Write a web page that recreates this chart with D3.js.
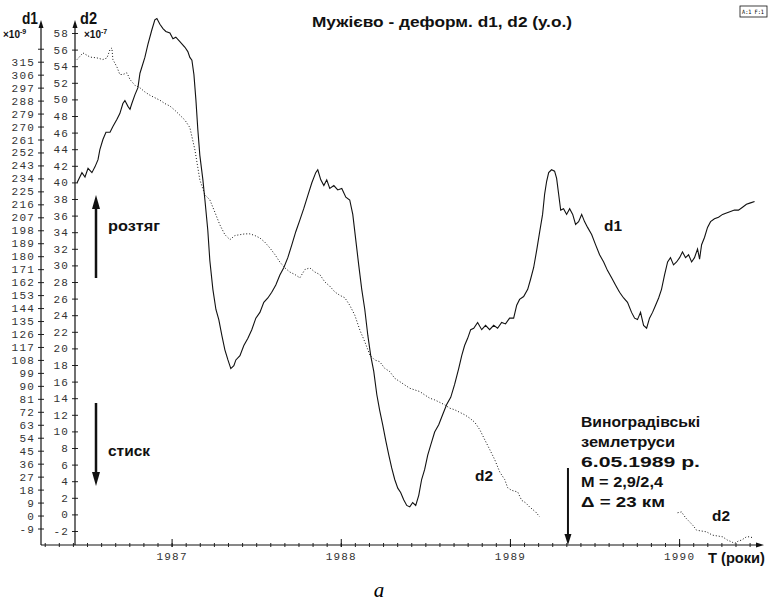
<!DOCTYPE html>
<html>
<head>
<meta charset="utf-8">
<script src="https://cdn.jsdelivr.net/npm/d3@7"></script>
<style>
  body { margin: 0; background: #fff; }
  svg { display: block; }
  .tick text { font-family: "Liberation Mono", "DejaVu Sans Mono", monospace; font-size: 11px; letter-spacing: 1.2px; fill: #333; }
  .lbl { font-family: "Liberation Sans", Arial, sans-serif; font-weight: bold; fill: #111; }
</style>
</head>
<body>
<script>
// --- data (years as decimal years) ---
var d1Years = [
  1986.441, 1986.470, 1986.488, 1986.506, 1986.529, 1986.547, 1986.565, 1986.576, 1986.594, 1986.612,
  1986.636, 1986.653, 1986.677, 1986.694, 1986.712, 1986.724, 1986.742, 1986.754, 1986.765, 1986.783,
  1986.801, 1986.813, 1986.842, 1986.860, 1986.883, 1986.901, 1986.913, 1986.931, 1986.949, 1986.966,
  1986.990, 1987.008, 1987.025, 1987.049, 1987.079, 1987.096, 1987.108, 1987.120, 1987.132, 1987.144,
  1987.155, 1987.167, 1987.185, 1987.197, 1987.214, 1987.226, 1987.244, 1987.262, 1987.279, 1987.297,
  1987.315, 1987.333, 1987.350, 1987.368, 1987.380, 1987.404, 1987.427, 1987.451, 1987.474, 1987.498,
  1987.522, 1987.545, 1987.569, 1987.592, 1987.616, 1987.640, 1987.663, 1987.687, 1987.711, 1987.734,
  1987.758, 1987.781, 1987.805, 1987.829, 1987.852, 1987.864, 1987.882, 1987.900, 1987.917, 1987.935,
  1987.959, 1987.982, 1988.006, 1988.030, 1988.053, 1988.071, 1988.089, 1988.106, 1988.124, 1988.142,
  1988.160, 1988.177, 1988.195, 1988.213, 1988.230, 1988.248, 1988.266, 1988.284, 1988.301, 1988.319,
  1988.337, 1988.354, 1988.372, 1988.390, 1988.408, 1988.425, 1988.443, 1988.461, 1988.478, 1988.496,
  1988.514, 1988.532, 1988.555, 1988.579, 1988.602, 1988.626, 1988.650, 1988.673, 1988.697, 1988.715,
  1988.732, 1988.750, 1988.768, 1988.786, 1988.809, 1988.833, 1988.856, 1988.880, 1988.904, 1988.927,
  1988.951, 1988.974, 1988.998, 1989.022, 1989.040, 1989.057, 1989.081, 1989.105, 1989.122, 1989.140,
  1989.158, 1989.176, 1989.193, 1989.205, 1989.217, 1989.229, 1989.246, 1989.264, 1989.276, 1989.288,
  1989.300, 1989.317, 1989.335, 1989.353, 1989.371, 1989.388, 1989.406, 1989.424, 1989.441, 1989.459,
  1989.483, 1989.506, 1989.530, 1989.554, 1989.577, 1989.601, 1989.624, 1989.648, 1989.672, 1989.695,
  1989.719, 1989.737, 1989.754, 1989.772, 1989.790, 1989.808, 1989.825, 1989.843, 1989.861, 1989.879,
  1989.896, 1989.914, 1989.932, 1989.949, 1989.967, 1989.985, 1990.003, 1990.020, 1990.038, 1990.056,
  1990.074, 1990.091, 1990.109, 1990.121, 1990.133, 1990.150, 1990.168, 1990.186, 1990.209, 1990.233,
  1990.257, 1990.280, 1990.304, 1990.327, 1990.351, 1990.375, 1990.398, 1990.422, 1990.446
];
var d1Values = [
  231, 238, 235, 241, 238, 242, 247, 254, 261, 266,
  266, 270, 275, 279, 286, 288, 284, 282, 286, 292,
  297, 307, 318, 327, 337, 344, 345, 341, 338, 336,
  335, 331, 332, 329, 325, 322, 318, 316, 306, 288,
  268, 250, 233, 219, 198, 177, 157, 143, 136, 125,
  115, 108, 102, 104, 108, 111, 118, 123, 129, 137,
  141, 148, 151, 155, 160, 167, 172, 179, 188, 197,
  205, 213, 222, 231, 238, 240, 233, 229, 233, 227,
  229, 226, 227, 221, 219, 209, 191, 174, 157, 143,
  125, 111, 100, 84, 73, 63, 52, 42, 33, 25,
  19, 16, 11, 7, 6, 9, 7, 14, 25, 32,
  42, 49, 58, 63, 70, 77, 82, 91, 102, 111,
  118, 123, 129, 130, 134, 129, 132, 129, 132, 130,
  134, 133, 137, 137, 146, 150, 152, 157, 164, 172,
  184, 197, 209, 223, 232, 238, 240, 239, 234, 223,
  212, 213, 209, 213, 209, 202, 204, 209, 204, 200,
  195, 188, 181, 176, 170, 165, 160, 155, 151, 148,
  141, 137, 136, 141, 132, 130, 137, 141, 146, 151,
  157, 167, 176, 179, 174, 176, 179, 183, 179, 181,
  176, 179, 185, 178, 188, 193, 200, 204, 206, 207,
  209, 210, 211, 212, 212, 214, 216, 217, 218
];

// d2 has a gap in the record (null)
var d2Years = [
  1986.441, 1986.476, 1986.518, 1986.559, 1986.594, 1986.618, 1986.636, 1986.647, 1986.653, 1986.677,
  1986.694, 1986.712, 1986.736, 1986.754, 1986.783, 1986.813, 1986.842, 1986.872, 1986.901, 1986.931,
  1986.960, 1986.990, 1987.019, 1987.049, 1987.079, 1987.108, 1987.138, 1987.167, 1987.197, 1987.226,
  1987.256, 1987.285, 1987.315, 1987.345, 1987.374, 1987.404, 1987.433, 1987.463, 1987.492, 1987.522,
  1987.551, 1987.581, 1987.611, 1987.640, 1987.670, 1987.699, 1987.729, 1987.758, 1987.788, 1987.817,
  1987.847, 1987.876, 1987.906, 1987.935, 1987.965, 1987.994, 1988.024, 1988.053, 1988.083, 1988.113,
  1988.142, 1988.172, 1988.201, 1988.230, 1988.260, 1988.290, 1988.319, 1988.349, 1988.378, 1988.408,
  1988.437, 1988.467, 1988.496, 1988.526, 1988.555, 1988.585, 1988.615, 1988.644, 1988.674, 1988.703,
  1988.733, 1988.762, 1988.792, 1988.822, 1988.851, 1988.881, 1988.910, 1988.940, 1988.969, 1988.987,
  1989.010, 1989.046, 1989.069, 1989.093, 1989.116, 1989.152, 1989.176, 1989.600,
  1989.991, 1990.014, 1990.038, 1990.062, 1990.085, 1990.103, 1990.132, 1990.162, 1990.197, 1990.227,
  1990.257, 1990.286, 1990.310, 1990.327, 1990.351, 1990.369, 1990.398, 1990.416, 1990.434
];
var d2Values = [
  54.8, 55.6, 55.1, 55.0, 54.8, 55.0, 56.0, 56.2, 54.8, 53.9,
  53.0, 53.0, 53.2, 52.4, 51.7, 51.4, 50.9, 50.5, 50.2, 49.9,
  49.5, 49.2, 48.7, 48.1, 47.5, 46.6, 43.9, 40.3, 38.5, 37.9,
  36.4, 34.9, 33.7, 33.1, 33.6, 33.7, 33.8, 33.8, 33.6, 33.3,
  32.8, 32.1, 31.3, 30.4, 29.7, 29.2, 28.9, 28.5, 29.5, 29.7,
  29.2, 28.9, 28.0, 27.5, 26.8, 26.4, 26.1, 25.2, 24.0, 22.2,
  20.8, 19.2, 18.6, 18.4, 17.6, 17.2, 16.4, 16.0, 15.6, 15.2,
  15.0, 14.8, 14.4, 14.0, 13.8, 13.5, 13.2, 12.8, 12.6, 12.3,
  12.0, 11.6, 11.1, 10.2, 9.0, 7.8, 6.6, 5.1, 4.2, 3.2,
  2.9, 2.7, 1.7, 1.4, 0.9, 0.3, -0.3, null,
  0.2, 0.3, -0.4, -0.9, -1.4, -1.9, -2.0, -2.1, -2.5, -2.6,
  -2.7, -3.1, -3.3, -3.5, -3.2, -3.1, -2.7, -2.7, -2.8
];

// tick labels
var d1Ticks = [-9, 0, 9, 18, 27, 36, 45, 54, 63, 72, 81, 90, 99, 108, 117, 126, 135, 144, 153, 162,
  171, 180, 189, 198, 207, 216, 225, 234, 243, 252, 261, 270, 279, 288, 297, 306, 315, 324];
var d2Ticks = [-2, 0, 2, 4, 6, 8, 10, 12, 14, 16, 18, 20, 22, 24, 26, 28, 30, 32, 34, 36, 38, 40,
  42, 44, 46, 48, 50, 52, 54, 56, 58];
var yearTicks = [1987, 1988, 1989, 1990];
var quakeDate = 1989.343; // 6.05.1989

var width = 771, height = 602;
var axisY = 545, axisTop = 20;

var svg = d3.select("body").append("svg")
    .attr("width", width)
    .attr("height", height);

var xScale = d3.scaleLinear().domain([1986.228, 1990.49]).range([41, 762]);
var y1Scale = d3.scaleLinear().domain([-9, 315]).range([528.5, 61.7]);
var y2Scale = d3.scaleLinear().domain([-2, 58]).range([531, 33]);
var x1Axis = 41, x2Axis = 75;

function tri(points) {
    svg.append("path")
        .attr("d", "M" + points.map(p => p.join(",")).join("L") + "Z")
        .attr("fill", "#111");
}

// vertical axes
var d1Axis = svg.append("g")
    .attr("transform", "translate(" + x1Axis + ",0)")
    .call(d3.axisLeft(y1Scale).tickValues(d1Ticks).tickSize(3).tickPadding(3)
        .tickFormat(d => d == 324 ? "" : String(d)));
var d2Axis = svg.append("g")
    .attr("transform", "translate(" + x2Axis + ",0)")
    .call(d3.axisLeft(y2Scale).tickValues(d2Ticks).tickSize(3).tickPadding(3)
        .tickFormat(d => String(d)));
[d1Axis, d2Axis].forEach(function (g) {
    g.select(".domain").remove();
    g.selectAll(".tick line").attr("x1", 3).attr("stroke", "#222");
});
[x1Axis, x2Axis].forEach(function (x) {
    svg.append("line").attr("x1", x).attr("x2", x).attr("y1", axisY).attr("y2", axisTop + 4)
        .attr("stroke", "#111").attr("stroke-width", 1.2);
    tri([[x, axisTop], [x - 2.5, axisTop + 8], [x + 2.5, axisTop + 8]]);
});

// horizontal axis
svg.append("line").attr("x1", x1Axis).attr("x2", 758).attr("y1", axisY).attr("y2", axisY)
    .attr("stroke", "#111").attr("stroke-width", 1);
tri([[764, axisY], [756, axisY - 2.5], [756, axisY + 2.5]]);

var monthTicks = d3.range(1986.25, 1990.47, 1 / 12);
var minor = svg.append("g")
    .attr("transform", "translate(0," + axisY + ")")
    .call(d3.axisBottom(xScale).tickValues(monthTicks).tickSize(2).tickFormat(""));
minor.select(".domain").remove();
minor.selectAll(".tick line").attr("y1", -2).attr("stroke", "#222");

var major = svg.append("g")
    .attr("transform", "translate(0," + axisY + ")")
    .call(d3.axisBottom(xScale).tickValues(yearTicks).tickSize(2).tickPadding(5).tickFormat(d3.format("d")));
major.select(".domain").remove();
major.selectAll(".tick line").attr("y1", -6).attr("stroke", "#111");

// series
var d1Data = d3.zip(d1Years, d1Values);
var d2Data = d3.zip(d2Years, d2Values);

svg.append("path")
    .datum(d1Data)
    .attr("fill", "none")
    .attr("stroke", "#111")
    .attr("stroke-width", 1.1)
    .attr("d", d3.line().x(d => xScale(d[0])).y(d => y1Scale(d[1])));

svg.append("path")
    .datum(d2Data)
    .attr("fill", "none")
    .attr("stroke", "#111")
    .attr("stroke-width", 1)
    .attr("stroke-dasharray", "1,2")
    .attr("d", d3.line().defined(d => d[1] != null).x(d => xScale(d[0])).y(d => y2Scale(d[1])));

// axis titles
function label(x, y, txt, size, len) {
    var t = svg.append("text").attr("class", "lbl").attr("x", x).attr("y", y)
        .attr("font-size", size).text(txt);
    if (len) t.attr("textLength", len).attr("lengthAdjust", "spacingAndGlyphs");
    return t;
}
label(22, 24, "d1", 17, 16);
label(80, 24, "d2", 17, 17);
[[3, "-9"], [84, "-7"]].forEach(function (m) {
    var t = svg.append("text").attr("class", "lbl").attr("x", m[0]).attr("y", 38).attr("font-size", 10);
    t.append("tspan").text("×10");
    t.append("tspan").attr("font-size", 7).attr("dy", -4).text(m[1]);
});

label(312, 27, "Мужієво - деформ. d1, d2 (у.о.)", 15, 260);
label(708, 563, "T (роки)", 15, 57);

// small status box in the corner
svg.append("rect").attr("x", 740).attr("y", 6).attr("width", 27).attr("height", 11)
    .attr("fill", "none").attr("stroke", "#111").attr("stroke-width", 0.8);
svg.append("text").attr("x", 742).attr("y", 14).attr("font-size", 6)
    .attr("font-family", "DejaVu Sans Mono").attr("textLength", 22)
    .attr("lengthAdjust", "spacingAndGlyphs").text("A:1 F:1");

// tension / compression arrows
svg.append("line").attr("x1", 96).attr("x2", 96).attr("y1", 278).attr("y2", 206)
    .attr("stroke", "#111").attr("stroke-width", 2.5);
tri([[96, 195], [92, 209], [100, 209]]);
label(108, 231, "розтяг", 14, 52);
svg.append("line").attr("x1", 96).attr("x2", 96).attr("y1", 403).attr("y2", 475)
    .attr("stroke", "#111").attr("stroke-width", 2.5);
tri([[96, 486], [92, 472], [100, 472]]);
label(108, 456, "стиск", 14, 42);

// series labels
label(604, 231, "d1", 15, 18);
label(475, 481, "d2", 15, 18);
label(712, 521, "d2", 15, 18);

// earthquake marker
var qx = xScale(quakeDate);
svg.append("line").attr("x1", qx).attr("x2", qx).attr("y1", 468).attr("y2", 536)
    .attr("stroke", "#111").attr("stroke-width", 2);
tri([[qx, axisY], [qx - 3.5, 534], [qx + 3.5, 534]]);
var quakeLines = [["Виноградівські", 119], ["землетруси", 94], ["6.05.1989 р.", 119], ["M = 2,9/2,4", 82], ["Δ = 23 км", 84]];
quakeLines.forEach(function (l, i) {
    label(581, 427 + i * 20, l[0], 15, l[1]);
});

// panel letter
svg.append("text").attr("x", 379).attr("y", 597).attr("text-anchor", "middle")
    .attr("font-family", "Liberation Serif, serif").attr("font-style", "italic")
    .attr("font-size", 21).text("a");
</script>
</body>
</html>
